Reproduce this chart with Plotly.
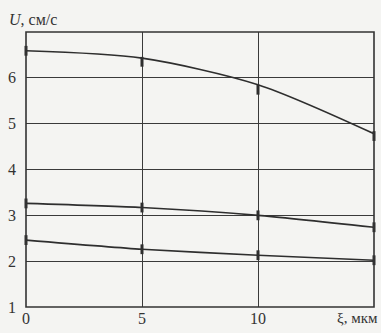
import plotly.graph_objects as go

# Data
xi = [0, 5, 10, 15]
u_top_points = [6.59, 6.35, 5.74, 4.73]
u_top_curve = [6.59, 6.43, 5.85, 4.78]
u_mid = [3.26, 3.17, 3.00, 2.74]
u_low = [2.46, 2.26, 2.13, 2.02]

x_tickvals = [0, 5, 10]
x_ticktext = ["0", "5", "10"]
y_tickvals = [1, 2, 3, 4, 5, 6]

ink = "#2e2e2e"
font = "Liberation Serif"

fig = go.Figure()
fig.add_trace(go.Scatter(x=xi, y=u_top_curve, mode="lines",
                         line=dict(color=ink, width=1.6, shape="spline", smoothing=0.8),
                         showlegend=False, hoverinfo="skip"))
fig.add_trace(go.Scatter(x=xi, y=u_top_points, mode="markers",
                         marker=dict(symbol="line-ns", size=7, line=dict(color=ink, width=3)),
                         showlegend=False, cliponaxis=False))
for ys in (u_mid, u_low):
    fig.add_trace(go.Scatter(x=xi, y=ys, mode="lines+markers",
                             line=dict(color=ink, width=1.6, shape="spline", smoothing=0.6),
                             marker=dict(symbol="line-ns", size=7, line=dict(color=ink, width=3)),
                             showlegend=False, cliponaxis=False))

fig.update_layout(
    width=381, height=333,
    margin=dict(l=26, r=7, t=32, b=26),
    paper_bgcolor="#f4f4f2", plot_bgcolor="#f4f4f2",
    font=dict(family=font, size=16, color="#333333"),
    xaxis=dict(range=[0, 15], tickvals=x_tickvals, ticktext=x_ticktext,
               showgrid=True, gridcolor="#3a3a3a", gridwidth=1,
               showline=False, zeroline=False, ticks="", ticklabelstandoff=0),
    yaxis=dict(range=[1, 7], tickvals=y_tickvals,
               showgrid=True, gridcolor="#3a3a3a", gridwidth=1,
               showline=False, zeroline=False, ticks="", ticklabelstandoff=9),
    shapes=[dict(type="rect", xref="paper", yref="paper", x0=0, y0=0, x1=1, y1=1,
                 line=dict(color="#333333", width=1.6), layer="above")],
    annotations=[
        dict(text="<i>U</i>, см/с", xref="paper", yref="paper", x=-0.055, y=1.0,
             xanchor="left", yanchor="bottom", yshift=2, showarrow=False,
             font=dict(family=font, size=16, color="#333333")),
        dict(text="ξ, мкм", xref="paper", yref="paper", x=1.0, y=0,
             xanchor="right", yanchor="top", xshift=6, yshift=-1, showarrow=False,
             font=dict(family=font, size=15, color="#333333")),
    ],
)

fig.write_html("out.html", config={"displayModeBar": False},
               post_script="document.body.style.margin='0';document.body.style.overflow='hidden';")
